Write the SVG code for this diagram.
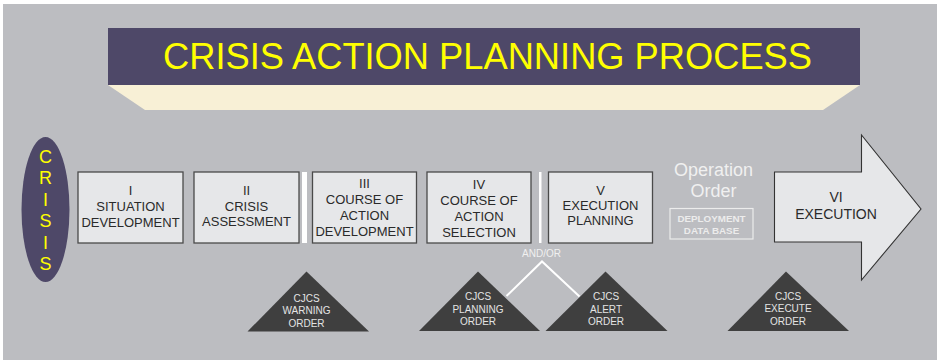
<svg xmlns="http://www.w3.org/2000/svg" width="937" height="360" viewBox="0 0 937 360">
<style>
text{font-family:"Liberation Sans",Arial,sans-serif;text-anchor:middle}
.box{fill:#e6e7e9;stroke:#4a4a4a;stroke-width:1.3}
.bt{font-size:13px;fill:#2a2a2a}
.tri{fill:#3f3f3f}
.tt{font-size:10px;fill:#e4e4e4}
.lt{fill:#f0f0f0}
</style>
<rect x="0" y="0" width="937" height="360" fill="#ffffff"/>
<rect x="3" y="4" width="934" height="356" fill="#bcbdc1"/>
<g id="title">
<polygon points="108,85 860,85 823,110 145,110" fill="#f8f0d6"/>
<rect x="108" y="28" width="752" height="57" fill="#4e4868"/>
<text x="487.5" y="69" font-size="37.5" fill="#ffff00" textLength="649" lengthAdjust="spacingAndGlyphs">CRISIS ACTION PLANNING PROCESS</text>
</g>
<g id="crisis">
<ellipse cx="45.5" cy="209.5" rx="24" ry="72.5" fill="#4e4868"/>
<g font-size="18" fill="#ffff00">
<text x="45.5" y="162.7">C</text>
<text x="45.5" y="184.2">R</text>
<text x="45.5" y="205.7">I</text>
<text x="45.5" y="227.2">S</text>
<text x="45.5" y="248.7">I</text>
<text x="45.5" y="270.2">S</text>
</g>
</g>
<g id="phase1">
<rect class="box" x="78" y="172" width="105" height="71"/>
<text class="bt" x="130.5" y="195">I</text>
<text class="bt" x="130.5" y="210.8">SITUATION</text>
<text class="bt" x="130.5" y="226.6">DEVELOPMENT</text>
</g>
<g id="phase2">
<rect class="box" x="194" y="172" width="105" height="71"/>
<text class="bt" x="246.5" y="195">II</text>
<text class="bt" x="246.5" y="210.5">CRISIS</text>
<text class="bt" x="246.5" y="226">ASSESSMENT</text>
</g>
<g id="phase3">
<rect class="box" x="312.5" y="172" width="104" height="71"/>
<text class="bt" x="364.5" y="188">III</text>
<text class="bt" x="364.5" y="204">COURSE OF</text>
<text class="bt" x="364.5" y="220">ACTION</text>
<text class="bt" x="364.5" y="236">DEVELOPMENT</text>
</g>
<g id="phase4">
<rect class="box" x="427" y="172" width="104" height="71"/>
<text class="bt" x="479" y="189">IV</text>
<text class="bt" x="479" y="205">COURSE OF</text>
<text class="bt" x="479" y="221">ACTION</text>
<text class="bt" x="479" y="236.5">SELECTION</text>
</g>
<g id="phase5">
<rect class="box" x="548.5" y="172" width="104" height="71"/>
<text class="bt" x="600.5" y="195">V</text>
<text class="bt" x="600.5" y="210">EXECUTION</text>
<text class="bt" x="600.5" y="225">PLANNING</text>
</g>
<g id="separators" fill="#ffffff">
<rect x="302" y="172" width="5" height="71"/>
<rect x="539" y="172" width="2.5" height="71"/>
</g>
<g id="opord">
<text class="lt" x="713.5" y="175.5" font-size="18">Operation</text>
<text class="lt" x="713.5" y="196.5" font-size="18">Order</text>
<rect x="670" y="208.5" width="83" height="30.5" fill="none" stroke="#ececec" stroke-width="1.2"/>
<text x="711.5" y="222" font-size="9.8" font-weight="bold" fill="#ececec">DEPLOYMENT</text>
<text x="711.5" y="234" font-size="9.8" font-weight="bold" fill="#ececec">DATA BASE</text>
</g>
<g id="phase6">
<polygon points="774.5,172 861.5,172 861.5,135 921,209 861.5,280 861.5,242 774.5,242" fill="#e6e7e9" stroke="#333333" stroke-width="1.1"/>
<text x="836" y="202" font-size="14" fill="#2a2a2a">VI</text>
<text x="836" y="219" font-size="14" fill="#2a2a2a">EXECUTION</text>
</g>
<g id="connectors">
<polyline points="506.5,296 542,261.5 579.5,296.5" fill="none" stroke="#ffffff" stroke-width="2"/>
<text class="lt" x="541.5" y="256.5" font-size="10">AND/OR</text>
</g>
<g id="warning">
<polygon class="tri" points="306.5,271.5 369,331.5 247.5,331.5"/>
<text class="tt" x="306.5" y="302">CJCS</text>
<text class="tt" x="306.5" y="314">WARNING</text>
<text class="tt" x="306.5" y="326.5">ORDER</text>
</g>
<g id="planning">
<polygon class="tri" points="478,271.5 540,331 419,331"/>
<text class="tt" x="478" y="300">CJCS</text>
<text class="tt" x="478" y="313">PLANNING</text>
<text class="tt" x="478" y="325">ORDER</text>
</g>
<g id="alert">
<polygon class="tri" points="605.5,271.5 667.5,331 545.5,331"/>
<text class="tt" x="606" y="300">CJCS</text>
<text class="tt" x="606" y="313">ALERT</text>
<text class="tt" x="606" y="325">ORDER</text>
</g>
<g id="execute">
<polygon class="tri" points="786,271.5 849,331 727.5,331"/>
<text class="tt" x="788" y="299.5">CJCS</text>
<text class="tt" x="788" y="312">EXECUTE</text>
<text class="tt" x="788" y="324.5">ORDER</text>
</g>
</svg>
